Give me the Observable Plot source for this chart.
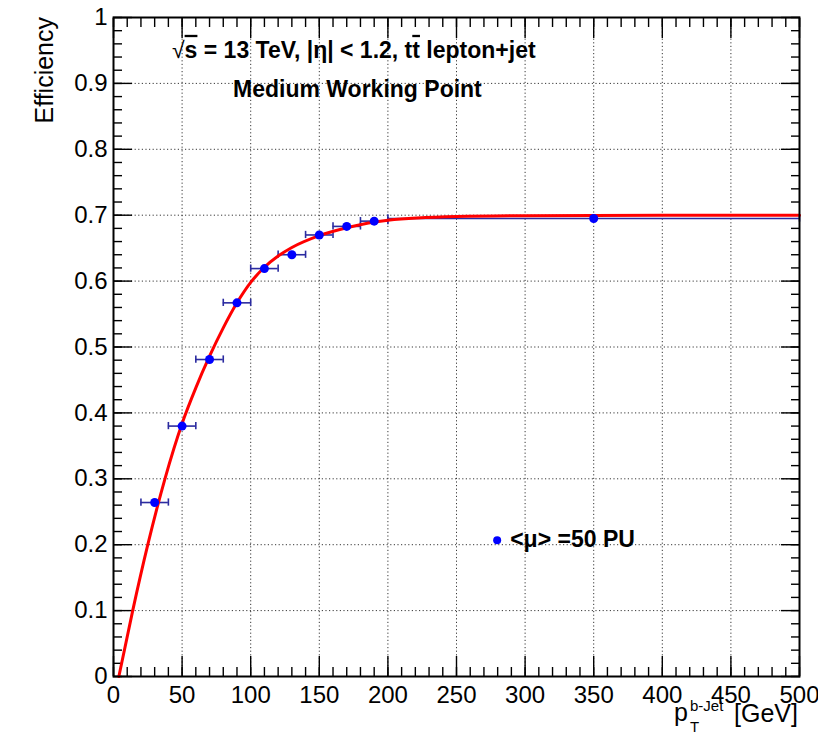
<!DOCTYPE html>
<html>
<head>
<meta charset="utf-8">
<script src="https://cdn.jsdelivr.net/npm/d3@7"></script>
<script src="https://cdn.jsdelivr.net/npm/@observablehq/plot@0.6"></script>
<style>
  html, body { margin: 0; padding: 0; background: white; }
  #chart svg { display: block; }
</style>
</head>
<body>
<div id="chart"></div>
<script>
// ---- data ----
const ptX     = [30, 50, 70, 90, 110, 130, 150, 170, 190, 350];
const ptY     = [0.264, 0.380, 0.481, 0.567, 0.619, 0.640, 0.670, 0.683, 0.691, 0.695];
const ptXLow  = [20, 40, 60, 80, 100, 120, 140, 160, 180, 200];
const ptXHigh = [40, 60, 80, 100, 120, 140, 160, 180, 200, 500];

// fitted curve
const fitX = [3.9, 14, 25, 37.5, 50, 60, 70, 80, 90, 100, 110, 120, 130, 150, 170, 200, 250, 300, 400, 500];
const fitY = [0, 0.1, 0.2, 0.3, 0.384, 0.438, 0.486, 0.529, 0.567, 0.598, 0.621, 0.638, 0.651, 0.669, 0.681, 0.6925, 0.698, 0.6993, 0.6999, 0.7];

const xMajor = [0, 50, 100, 150, 200, 250, 300, 350, 400, 450, 500];
const xMinor = d3.range(0, 501, 10);
const yMajor = [0, 0.1, 0.2, 0.3, 0.4, 0.5, 0.6, 0.7, 0.8, 0.9, 1];
const yMinor = d3.range(0, 51).map(i => i / 50);

const headerLine = "= 13 TeV, |η| < 1.2, t";
const subLine = "Medium Working Point";
const legendLabel = "<μ> =50 PU";
const yTitle = "Efficiency";

const points = ptX.map((x, i) => ({x, y: ptY[i], lo: ptXLow[i], hi: ptXHigh[i]}));
const fit = fitX.map((x, i) => ({x, y: fitY[i]}));

const FONT = "'Liberation Sans', Arial, Helvetica, sans-serif";
const tickOpts = {tickFormat: () => "", label: null, strokeWidth: 1.4};
const gridOpts = {stroke: "#222", strokeOpacity: 0.9, strokeDasharray: "1.2,2.4", strokeWidth: 1};
const cap = 0.0055;

const chart = Plot.plot({
  width: 818,
  height: 733,
  marginLeft: 113,
  marginRight: 19,
  marginTop: 17,
  marginBottom: 57,
  x: {domain: [0, 500], label: null},
  y: {domain: [0, 1], label: null},
  style: {fontFamily: FONT, fontSize: "24px", color: "black", background: "white", overflow: "visible"},
  marks: [
    Plot.gridX(xMajor, gridOpts),
    Plot.gridY(yMajor, gridOpts),
    Plot.axisX(xMinor, {...tickOpts, anchor: "bottom", tickSize: -9}),
    Plot.axisX(xMajor, {...tickOpts, anchor: "bottom", tickSize: -20}),
    Plot.axisX(xMinor, {...tickOpts, anchor: "top", tickSize: -9}),
    Plot.axisX(xMajor, {...tickOpts, anchor: "top", tickSize: -20}),
    Plot.axisY(yMinor, {...tickOpts, anchor: "left", tickSize: -9}),
    Plot.axisY(yMajor, {...tickOpts, anchor: "left", tickSize: -19}),
    Plot.axisY(yMinor, {...tickOpts, anchor: "right", tickSize: -9}),
    Plot.axisY(yMajor, {...tickOpts, anchor: "right", tickSize: -19}),
    Plot.axisX(xMajor, {anchor: "bottom", tickSize: 0, tickPadding: 9, label: null, fontSize: 24, tickFormat: d => String(d)}),
    Plot.axisY(yMajor, {anchor: "left", tickSize: 0, tickPadding: 6, label: null, fontSize: 24, tickFormat: d => String(Math.round(d * 10) / 10)}),
    Plot.ruleY(points, {x1: "lo", x2: "hi", y: "y", stroke: "#2b2ba0", strokeWidth: 1.6}),
    Plot.ruleX(points, {x: "lo", y1: d => d.y - cap, y2: d => d.y + cap, stroke: "#2b2ba0", strokeWidth: 1.6}),
    Plot.ruleX(points, {x: "hi", y1: d => d.y - cap, y2: d => d.y + cap, stroke: "#2b2ba0", strokeWidth: 1.6}),
    Plot.line(fit, {x: "x", y: "y", stroke: "#ff0000", strokeWidth: 3, curve: "monotone-x"}),
    Plot.dot(points, {x: "x", y: "y", r: 4.5, fill: "#0000ff", stroke: "none"}),
    Plot.frame({stroke: "black", strokeWidth: 2})
  ]
});

document.getElementById("chart").appendChild(chart);

// ---- annotations (real text) ----
const svg = d3.select(chart);
const sx = chart.scale("x"), sy = chart.scale("y");
const X = v => sx.apply(v), Y = v => sy.apply(v);
const addText = (x, y, size, weight) => svg.append("text")
  .attr("x", x).attr("y", y)
  .attr("text-anchor", "start")
  .attr("font-family", FONT).attr("font-size", size).attr("font-weight", weight).attr("fill", "black");

// header line
const h = addText(X(43), Y(0.938), 23, "bold");
h.append("tspan").attr("font-weight", "normal").text("√");
h.append("tspan").style("text-decoration", "overline").text("s");
h.append("tspan").text(" " + headerLine);
h.append("tspan").style("text-decoration", "overline").text("t");
h.append("tspan").text(" lepton+jet");

addText(X(87.5), Y(0.879), 23, "bold").text(subLine);

// legend
svg.append("circle").attr("cx", X(280)).attr("cy", Y(0.206)).attr("r", 4).attr("fill", "#0000ff");
addText(X(289.5), Y(0.196), 23, "bold").text(legendLabel);

// y title
svg.append("text")
  .attr("transform", `translate(53,${Y(1)}) rotate(-90)`)
  .attr("text-anchor", "end")
  .attr("font-family", FONT).attr("font-size", 25).attr("fill", "black")
  .text(yTitle);

// x title: p_T^{b-Jet} [GeV]
const xr = X(500);
addText(xr - 125, 721, 25, "normal").text("p");
addText(xr - 109, 711, 15, "normal").text("b-Jet");
addText(xr - 109, 732, 15, "normal").text("T");
addText(xr - 1, 722, 25, "normal").attr("text-anchor", "end").text("[GeV]");
</script>
</body>
</html>
